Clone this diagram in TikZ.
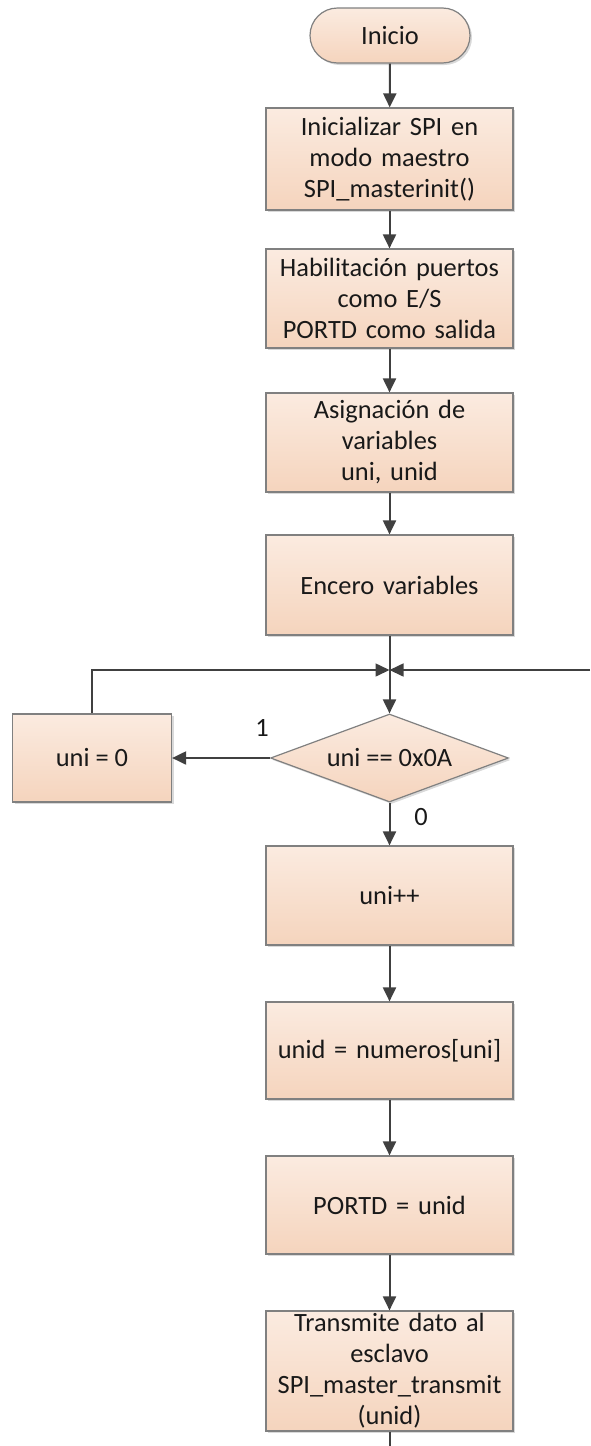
\documentclass[tikz,border=0pt]{standalone}
\usepackage{fontspec}
\setmainfont{Carlito}
\usetikzlibrary{arrows.meta,shapes.geometric,shadows}
\definecolor{durazno1}{RGB}{251,235,224}
\definecolor{durazno2}{RGB}{245,212,189}
\definecolor{borde}{RGB}{128,128,128}
\definecolor{flujo}{RGB}{64,64,64}
\tikzset{
        caja/.style={rectangle,draw=borde,line width=0.6pt,top color=durazno1,bottom color=durazno2,
                drop shadow={shadow xshift=1pt,shadow yshift=-1pt,opacity=0.3},
                text width=118pt,align=center,inner xsep=2.75pt,inner ysep=0pt,
                font=\fontsize{13.2}{15.5}\selectfont,text=black!90},
        inicio/.style={caja,rounded corners=13.75pt,text width=,minimum width=80pt,minimum height=27.5pt},
        rombo/.style={caja,diamond,aspect=2.7,text width=,inner sep=0pt,minimum width=119pt,minimum height=44pt},
        flecha/.style={draw=flujo,line width=1pt,-{Triangle[length=7pt,width=6.5pt]}},
        linea/.style={draw=flujo,line width=0.8pt},
        etiq/.style={font=\fontsize{13.2}{15.5}\selectfont,text=black!90}
}
\begin{document}
\begin{tikzpicture}[x=0.5pt,y=-0.5pt]
        \useasboundingbox (0,0) rectangle (590,1446);
        \node[inicio] (ini) at (390,35.5) {Inicio};
        \node[caja,minimum height=51pt] (spi) at (389.5,159) {Inicializar SPI en\\modo maestro\\SPI\_masterinit()};
        \node[caja,minimum height=49.5pt] (puertos) at (389.5,298.5) {Habilitación puertos\\como E/S\\PORTD como salida};
        \node[caja,minimum height=49.5pt] (asig) at (389.5,442.5) {Asignación de\\variables\\uni, unid};
        \node[caja,minimum height=50pt] (encero) at (389.5,585) {Encero variables};
        \coordinate (union) at (389.5,670);
        \coordinate (derecha) at (590,670);
        \node[rombo] (dec) at (389.5,758) {uni == 0x0A};
        \node[caja,text width=,minimum width=79.5pt,minimum height=44pt] (cero) at (92,758) {uni = 0};
        \node[caja,minimum height=49.5pt] (inc) at (389.5,895.5) {uni++};
        \node[caja,minimum height=48.5pt] (tabla) at (389.5,1050.5) {unid = numeros[uni]};
        \node[caja,minimum height=49pt] (port) at (389.5,1205) {PORTD = unid};
        \node[caja,minimum height=60pt] (trans) at (389.5,1371) {Transmite dato al\\esclavo\\SPI\_master\_transmit\\(unid)};
        \coordinate (fin) at (389.5,1446);
        \node[etiq] (uno) at (262,728) {1};
        \node[etiq] (nulo) at (421,817) {0};
        \draw[flecha] (ini) -- (spi);
        \draw[flecha] (spi) -- (puertos);
        \draw[flecha] (puertos) -- (asig);
        \draw[flecha] (asig) -- (encero);
        \draw[flecha] (encero) -- (dec);
        \draw[flecha,line width=0.8pt] (cero.north) |- (union);
        \draw[flecha,line width=0.8pt] (derecha) -- (union);
        \draw[flecha] (dec.west) -- (cero.east);
        \draw[flecha] (dec) -- (inc);
        \draw[flecha] (inc) -- (tabla);
        \draw[flecha] (tabla) -- (port);
        \draw[flecha] (port) -- (trans);
        \draw[linea,line width=1pt] (trans) -- (fin);
\end{tikzpicture}
\end{document}
